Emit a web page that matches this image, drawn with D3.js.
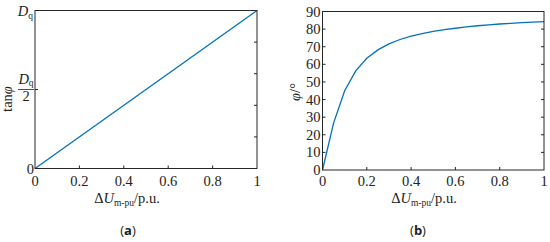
<!DOCTYPE html>
<html lang="en">
<head>
  <meta charset="UTF-8">
  <title>tan phi and phi vs dU</title>
  <script src="https://d3js.org/d3.v7.min.js"></script>
  <style>
    body { margin: 0; background: #fff; }
    text { font-family: "Liberation Serif", "Times New Roman", serif; fill: #222; }
    .cap { font-family: "Open Sans", "DejaVu Sans", sans-serif; font-size: 13px; }
  </style>
</head>
<body>
  <svg id="chart" width="550" height="242"></svg>
  <script>
    // data
    const duA = [0, 0.25, 0.5, 0.75, 1];
    const tanA = [0, 0.25, 0.5, 0.75, 1];            // in units of Dq
    const duB = [0, 0.05, 0.1, 0.15, 0.2, 0.25, 0.3, 0.35, 0.4, 0.45, 0.5,
                 0.55, 0.6, 0.65, 0.7, 0.75, 0.8, 0.85, 0.9, 0.95, 1];
    const phiB = [0, 26.6, 45, 56.3, 63.4, 68.2, 71.6, 74.1, 76, 77.5, 78.7,
                  79.7, 80.5, 81.3, 81.9, 82.4, 82.9, 83.3, 83.7, 84, 84.3];
    const xTicks = [0, 0.2, 0.4, 0.6, 0.8, 1];
    const yTicksB = [0, 10, 20, 30, 40, 50, 60, 70, 80, 90];

    const svg = d3.select("#chart");
    const blue = "#0072BD";
    const tick = 3;
    const fs = "14.5px";

    function xLabel(g, cx) {
      const t = g.append("text").attr("x", cx).attr("y", 203)
        .attr("text-anchor", "middle").style("font-size", fs);
      t.append("tspan").text("\u0394");
      t.append("tspan").style("font-style", "italic").text("U");
      t.append("tspan").attr("dy", 3).style("font-size", "9.5px").text("m-pu");
      t.append("tspan").attr("dy", -3).text("/p.u.");
    }

    function frame(g, x, y) {
      const [x0, x1] = x.range();
      const [y0, y1] = y.range();
      g.append("rect").attr("x", x0).attr("y", y1)
        .attr("width", x1 - x0).attr("height", y0 - y1)
        .attr("fill", "none").attr("stroke", "#262626").attr("stroke-width", 1);
    }

    // ---- (a)
    {
      const g = svg.append("g");
      const x = d3.scaleLinear().domain([0, 1]).range([35, 257]);
      const y = d3.scaleLinear().domain([0, 1]).range([168.5, 10.5]);

      g.append("path")
        .datum(duA.map((d, i) => [d, tanA[i]]))
        .attr("fill", "none").attr("stroke", blue).attr("stroke-width", 1.3)
        .attr("d", d3.line().x(d => x(d[0])).y(d => y(d[1])));
      frame(g, x, y);

      xTicks.slice(1, -1).forEach(v => {
        g.append("line").attr("x1", x(v)).attr("x2", x(v))
          .attr("y1", y(0)).attr("y2", y(0) - tick).attr("stroke", "#262626");
      });
      [0.2, 0.4, 0.6, 0.8].forEach(v => {
        g.append("line").attr("x1", x(1)).attr("x2", x(1) - tick)
          .attr("y1", y(v)).attr("y2", y(v)).attr("stroke", "#262626");
      });
      g.append("line").attr("x1", x(0)).attr("x2", x(0) + tick)
        .attr("y1", y(0.5)).attr("y2", y(0.5)).attr("stroke", "#262626");

      xTicks.forEach(v => {
        g.append("text").attr("x", x(v)).attr("y", 186)
          .attr("text-anchor", "middle").style("font-size", fs).text(v);
      });
      xLabel(g, 127);

      g.append("text").attr("x", x(0) - 1).attr("y", y(0) + 5)
        .attr("text-anchor", "end").style("font-size", fs).text("0");
      const dq = g.append("text").attr("x", x(0) - 2).attr("y", y(1) + 5)
        .attr("text-anchor", "end").style("font-size", fs);
      dq.append("tspan").style("font-style", "italic").text("D");
      dq.append("tspan").attr("dy", 3).style("font-size", "9.5px").text("q");

      const fx = 26, fy = y(0.5);
      const num = g.append("text").attr("x", fx).attr("y", fy - 6)
        .attr("text-anchor", "middle").style("font-size", fs);
      num.append("tspan").style("font-style", "italic").text("D");
      num.append("tspan").attr("dy", 2).style("font-size", "9.5px").text("q");
      g.append("line").attr("x1", fx - 8).attr("x2", fx + 8)
        .attr("y1", fy).attr("y2", fy).attr("stroke", "#222").attr("stroke-width", 0.8);
      g.append("text").attr("x", fx).attr("y", fy + 11)
        .attr("text-anchor", "middle").style("font-size", fs).text("2");

      const yl = g.append("text").attr("transform", "translate(12,99) rotate(-90)")
        .attr("text-anchor", "middle").style("font-size", fs);
      yl.append("tspan").text("tan");
      yl.append("tspan").style("font-style", "italic").text("\u03C6");

      g.append("text").attr("class", "cap").attr("x", 128).attr("y", 235)
        .attr("text-anchor", "middle")
        .html('(<tspan font-weight="bold">a</tspan>)');
    }

    // ---- (b)
    {
      const g = svg.append("g");
      const x = d3.scaleLinear().domain([0, 1]).range([322.5, 544]);
      const y = d3.scaleLinear().domain([0, 90]).range([170, 11.5]);

      g.append("path")
        .datum(duB.map((d, i) => [d, phiB[i]]))
        .attr("fill", "none").attr("stroke", blue).attr("stroke-width", 1.3)
        .attr("d", d3.line().x(d => x(d[0])).y(d => y(d[1])));
      frame(g, x, y);

      xTicks.slice(1, -1).forEach(v => {
        g.append("line").attr("x1", x(v)).attr("x2", x(v))
          .attr("y1", y(0)).attr("y2", y(0) - tick).attr("stroke", "#262626");
      });
      yTicksB.slice(1, -1).forEach(v => {
        g.append("line").attr("x1", x(0)).attr("x2", x(0) + tick)
          .attr("y1", y(v)).attr("y2", y(v)).attr("stroke", "#262626");
        g.append("line").attr("x1", x(1)).attr("x2", x(1) - tick)
          .attr("y1", y(v)).attr("y2", y(v)).attr("stroke", "#262626");
      });

      xTicks.forEach(v => {
        g.append("text").attr("x", x(v)).attr("y", 186)
          .attr("text-anchor", "middle").style("font-size", fs).text(v);
      });
      yTicksB.forEach(v => {
        g.append("text").attr("x", x(0) - 2).attr("y", y(v) + 5)
          .attr("text-anchor", "end").style("font-size", fs).text(v);
      });
      xLabel(g, 424);

      const yl = g.append("text").attr("transform", "translate(300,92) rotate(-90)")
        .attr("text-anchor", "middle").style("font-size", fs);
      yl.append("tspan").style("font-style", "italic").text("\u03C6");
      yl.append("tspan").text("/\u00B0");

      g.append("text").attr("class", "cap").attr("x", 418).attr("y", 235)
        .attr("text-anchor", "middle")
        .html('(<tspan font-weight="bold">b</tspan>)');
    }
  </script>
</body>
</html>
